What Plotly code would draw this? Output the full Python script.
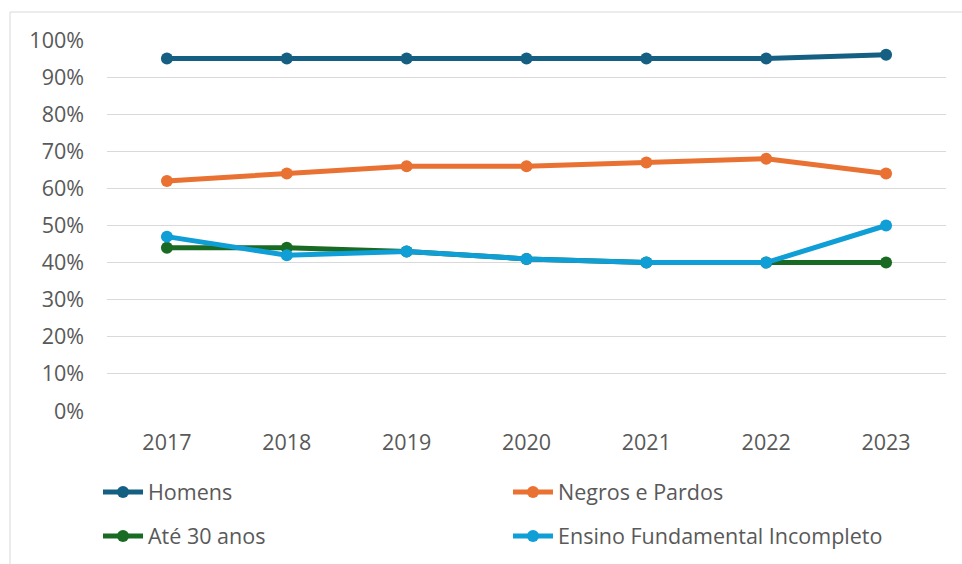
import plotly.graph_objects as go

years = ["2017", "2018", "2019", "2020", "2021", "2022", "2023"]
homens = [0.95, 0.95, 0.95, 0.95, 0.95, 0.95, 0.96]
negros_pardos = [0.62, 0.64, 0.66, 0.66, 0.67, 0.68, 0.64]
ate_30 = [0.44, 0.44, 0.43, 0.41, 0.40, 0.40, 0.40]
ensino_fund = [0.47, 0.42, 0.43, 0.41, 0.40, 0.40, 0.50]

series = [
    ("Homens", homens, "#156082", "legend"),
    ("Negros e Pardos", negros_pardos, "#E97132", "legend"),
    ("Até 30 anos", ate_30, "#196B24", "legend2"),
    ("Ensino Fundamental Incompleto", ensino_fund, "#0F9ED5", "legend2"),
]

W, H = 962, 564
L, R, T, B = 107, 16, 40, 153
pw, ph = W - L - R, H - T - B

def px_x(x):
    return (x - L) / pw

def px_y(y):
    return (H - B - y) / ph

fig = go.Figure()
for name, vals, color, leg in series:
    fig.add_trace(go.Scatter(
        x=years, y=vals, name=name, mode="lines+markers",
        line=dict(color=color, width=5),
        marker=dict(color=color, size=12),
        legend=leg,
    ))

font = dict(family="Open Sans, Arial, sans-serif", size=21.5, color="#595959")
legend_common = dict(
    orientation="h", xanchor="left", yanchor="middle",
    entrywidth=355, entrywidthmode="pixels",
    font=font, bgcolor="rgba(0,0,0,0)", itemwidth=40,
)

fig.update_layout(
    width=W, height=H,
    margin=dict(l=L, r=R, t=T, b=B, autoexpand=False),
    plot_bgcolor="white", paper_bgcolor="white",
    font=font,
    xaxis=dict(
        type="category", range=[-0.5, 6.5], showgrid=False, zeroline=False,
        showline=False, ticks="", ticklabelstandoff=16,
    ),
    yaxis=dict(
        range=[0, 1], dtick=0.1, tickformat=".0%", showgrid=True,
        gridcolor="#d9d9d9", gridwidth=1, zeroline=False, showline=False,
        ticks="", ticklabelstandoff=22,
    ),
    legend=dict(x=px_x(98), y=px_y(492), **legend_common),
    legend2=dict(x=px_x(98), y=px_y(536), **legend_common),
    shapes=[dict(
        type="rect", xref="paper", yref="paper",
        x0=px_x(10), x1=px_x(W + 5), y0=px_y(H + 5), y1=px_y(12),
        line=dict(color="#d9d9d9", width=1), fillcolor="rgba(0,0,0,0)",
        layer="below",
    )],
)

fig.write_html("out.html")
